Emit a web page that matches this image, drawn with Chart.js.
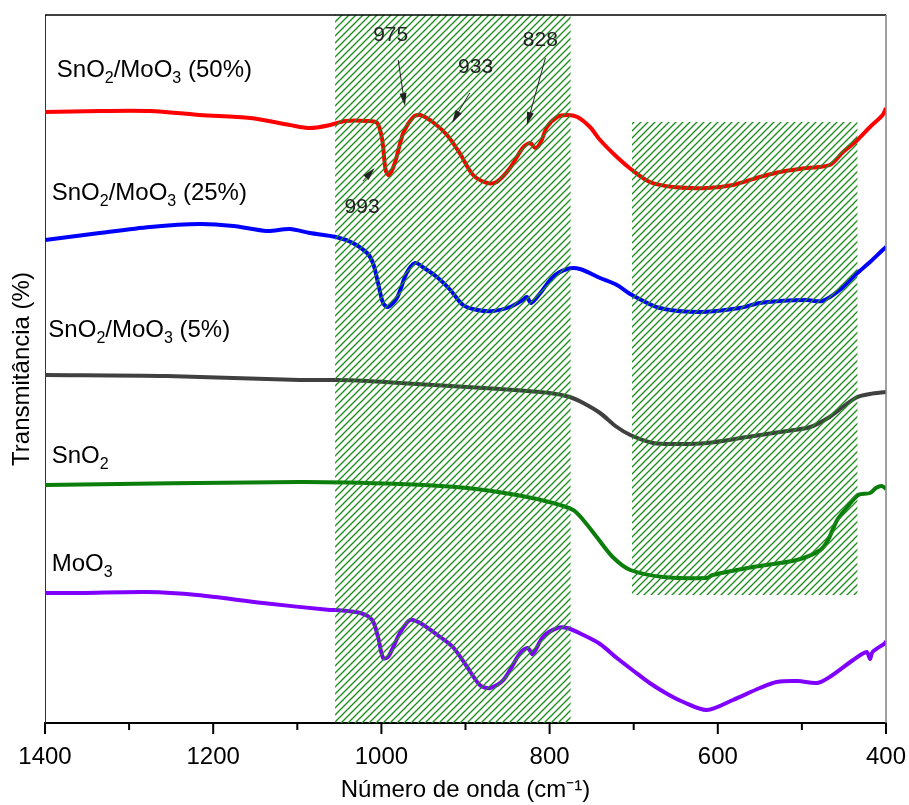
<!DOCTYPE html>
<html>
<head>
<meta charset="utf-8">
<script src="https://cdn.jsdelivr.net/npm/chart.js@4.4.0/dist/chart.umd.min.js"></script>
<style>
  body { margin: 0; background: #fff; }
</style>
</head>
<body>
<canvas id="myChart" width="909" height="805"></canvas>
<script>
// FTIR spectra, wavenumber (cm-1) vs offset transmittance (arbitrary units)
const redX = [1400,1335,1275,1216,1156,1109,1085,1061,1043,1017,1005,999,995,991,984,974,962,954,939,922,907,891,874,863,847,832,823,817,811,803,791,779,767,752,740,720,702,681,653,613,582,550,526,494,467,451,434,419,404,400];
const redY = [611,612,612,608,605,598,595,598,602,602,600,583,553,548,560,590,606,608,601,588,570,548,540,541,555,575,580,575,580,596,606,608,606,596,583,566,553,541,536,535,538,546,551,555,558,571,583,596,608,615];

const blueX = [1400,1335,1275,1216,1176,1136,1109,1085,1054,1034,1017,1010,1004,998,992,981,970,960,951,934,918,903,886,867,847,832,827,822,811,796,779,764,740,720,702,669,621,574,550,526,494,476,455,434,419,404,400];
const blueY = [483,490,496,499,497,492,494,490,486,480,470,460,440,420,416,426,450,460,456,446,433,418,413,412,416,423,426,420,430,446,454,454,445,438,428,415,411,415,420,422,423,422,433,450,461,473,476];

const grayX = [1400,1255,1097,1054,1017,978,918,859,800,776,760,740,720,704,677,645,613,565,526,490,467,450,434,419,400];
const grayY = [348,347,343,343,342,340,337,334,330,326,320,310,296,288,280,279,280,286,291,296,306,317,326,329,331];

const greenX = [1400,1097,978,898,839,796,772,760,744,725,704,665,613,606,558,506,478,469,458,446,433,419,412,405,400];
const greenY = [238,241,239,235,228,220,213,203,186,166,153,146,145,148,156,163,173,183,203,216,228,230,235,237,234];

const purpleX = [1400,1358,1279,1219,1141,1061,1054,1025,1011,1004,998,992,978,966,954,930,915,898,883,871,855,835,826,820,808,791,779,760,740,720,700,681,660,641,613,582,550,530,505,482,467,439,423,419,416,401,400];
const purpleY = [130,130,131,128,120,113,113,110,103,86,65,66,90,103,100,86,76,56,38,35,43,70,75,69,86,95,95,88,79,65,52,40,29,21,13,23,35,41,42,40,46,63,71,64,71,80,82];

// shaded (hatched) regions
const hatchFrom = [1055, 702];
const hatchTo = [775, 434];
const hatchTop = [708, 601];
const hatchBottom = [0, 128];

// sample labels: [text, subscript?] pieces
const labelParts = [
  [['SnO',0],['2',1],['/MoO',0],['3',1],[' (50%)',0]],
  [['SnO',0],['2',1],['/MoO',0],['3',1],[' (25%)',0]],
  [['SnO',0],['2',1],['/MoO',0],['3',1],[' (5%)',0]],
  [['SnO',0],['2',1]],
  [['MoO',0],['3',1]]
];
const labelX = [1386, 1392, 1396, 1392, 1392];
const labelY = [646, 523, 386, 260, 152];

// band annotations
const bandText = ['975', '933', '828', '993'];
const bandTextX = [989, 888, 811, 1023];
const bandTextY = [682, 650, 677, 510];
const arrowFromX = [980, 895, 805, 1022];
const arrowFromY = [663, 630, 665, 542];
const arrowToX = [972, 916, 827, 1008];
const arrowToY = [617, 600, 598, 555];

const xTicks = [1400,1300,1200,1100,1000,900,800,700,600,500,400];

const FONT = "'Liberation Sans', Arial, sans-serif";

function toPoints(xs, ys) {
  return xs.map((v, i) => ({ x: v, y: ys[i] }));
}

function makeHatch(ctx) {
  const s = 7;
  const tile = document.createElement('canvas');
  tile.width = s; tile.height = s;
  const t = tile.getContext('2d');
  t.strokeStyle = '#1a8c1a';
  t.lineWidth = 1.3;
  t.beginPath();
  t.moveTo(0, s); t.lineTo(s, 0);
  t.moveTo(-1, 1); t.lineTo(1, -1);
  t.moveTo(s - 1, s + 1); t.lineTo(s + 1, s - 1);
  t.stroke();
  return ctx.createPattern(tile, 'repeat');
}

function drawChem(ctx, parts, x, y) {
  let cx = x;
  parts.forEach(p => {
    if (p[1]) {
      ctx.font = '16px ' + FONT;
      ctx.fillText(p[0], cx, y + 6);
    } else {
      ctx.font = '24px ' + FONT;
      ctx.fillText(p[0], cx, y);
    }
    cx += ctx.measureText(p[0]).width;
  });
}

function drawArrow(ctx, x0, y0, x1, y1) {
  const ang = Math.atan2(y1 - y0, x1 - x0);
  const len = 13, half = 3.5;
  ctx.beginPath();
  ctx.moveTo(x0, y0);
  ctx.lineTo(x1 - Math.cos(ang) * len * 0.8, y1 - Math.sin(ang) * len * 0.8);
  ctx.stroke();
  ctx.beginPath();
  ctx.moveTo(x1, y1);
  ctx.lineTo(x1 - Math.cos(ang) * len - Math.sin(ang) * half, y1 - Math.sin(ang) * len + Math.cos(ang) * half);
  ctx.lineTo(x1 - Math.cos(ang) * len + Math.sin(ang) * half, y1 - Math.sin(ang) * len - Math.cos(ang) * half);
  ctx.closePath();
  ctx.fill();
}

const decor = {
  id: 'decor',
  afterDatasetsDraw(chart) {
    const { ctx, chartArea: a, scales: { x, y } } = chart;
    ctx.save();

    // hatched bands (drawn over the curves like in the original)
    ctx.fillStyle = makeHatch(ctx);
    hatchFrom.forEach((f, i) => {
      const x0 = x.getPixelForValue(f), x1 = x.getPixelForValue(hatchTo[i]);
      const y0 = y.getPixelForValue(hatchTop[i]), y1 = y.getPixelForValue(hatchBottom[i]);
      ctx.fillRect(Math.min(x0, x1), y0, Math.abs(x1 - x0), y1 - y0);
    });

    // frame top / right
    ctx.strokeStyle = '#000';
    ctx.lineWidth = 1.5;
    ctx.beginPath();
    ctx.moveTo(a.left, a.top); ctx.lineTo(a.right, a.top);
    ctx.stroke();
    ctx.strokeStyle = '#808080';
    ctx.beginPath();
    ctx.moveTo(a.right, a.top); ctx.lineTo(a.right, a.bottom);
    ctx.stroke();

    // x tick marks, major every 200 and minor between
    ctx.strokeStyle = '#000';
    ctx.lineWidth = 2;
    xTicks.forEach(v => {
      const px = x.getPixelForValue(v);
      const l = v % 200 === 0 ? 11 : 7;
      ctx.beginPath();
      ctx.moveTo(px, a.bottom); ctx.lineTo(px, a.bottom + l);
      ctx.stroke();
    });

    // sample labels
    ctx.fillStyle = '#000';
    ctx.textBaseline = 'alphabetic';
    ctx.textAlign = 'left';
    labelParts.forEach((p, i) => {
      drawChem(ctx, p, x.getPixelForValue(labelX[i]), y.getPixelForValue(labelY[i]));
    });

    // band numbers + arrows
    ctx.fillStyle = '#222';
    ctx.strokeStyle = '#222';
    ctx.lineWidth = 1;
    ctx.textAlign = 'center';
    ctx.font = '21px ' + FONT;
    bandText.forEach((t, i) => {
      ctx.fillText(t, x.getPixelForValue(bandTextX[i]), y.getPixelForValue(bandTextY[i]));
      drawArrow(ctx,
        x.getPixelForValue(arrowFromX[i]), y.getPixelForValue(arrowFromY[i]),
        x.getPixelForValue(arrowToX[i]), y.getPixelForValue(arrowToY[i]));
    });
    ctx.restore();
  }
};

function series(xs, ys, color) {
  return {
    data: toPoints(xs, ys),
    borderColor: color,
    borderWidth: 4,
    pointRadius: 0,
    fill: false,
    tension: 0.3
  };
}

let myChart = document.querySelector('#myChart').getContext('2d');
const chart = new Chart(myChart, {
  type: 'line',
  data: {
    datasets: [
      series(redX, redY, '#ff0000'),
      series(blueX, blueY, '#0000ff'),
      series(grayX, grayY, '#404040'),
      series(greenX, greenY, '#0a7d0a'),
      series(purpleX, purpleY, '#7f00ff')
    ]
  },
  options: {
    responsive: false,
    animation: false,
    devicePixelRatio: 1,
    layout: { padding: { top: 15, right: 23, left: 0, bottom: 0 } },
    plugins: { legend: { display: false }, tooltip: { enabled: false } },
    scales: {
      x: {
        type: 'linear',
        reverse: true,
        min: 400,
        max: 1400,
        ticks: {
          stepSize: 200, color: '#000', font: { size: 24, family: FONT }, padding: 12, maxRotation: 0,
          callback: v => String(v)
        },
        grid: { display: false },
        border: { color: '#000', width: 2 },
        title: { display: true, text: 'Número de onda (cm⁻¹)', color: '#000', font: { size: 24, family: FONT }, padding: 0 },
        afterFit(scale) {
          scale.height = 82;
          scale.paddingLeft = 0;
          scale.paddingRight = 0;
        }
      },
      y: {
        min: 0,
        max: 708,
        ticks: { display: false },
        grid: { display: false },
        border: { color: '#333', width: 1 },
        title: { display: true, text: 'Transmitância (%)', color: '#000', font: { size: 24, family: FONT }, padding: { top: 8, bottom: 0 } },
        afterFit(scale) { scale.width = 45; }
      }
    }
  },
  plugins: [decor]
});
</script>
</body>
</html>
